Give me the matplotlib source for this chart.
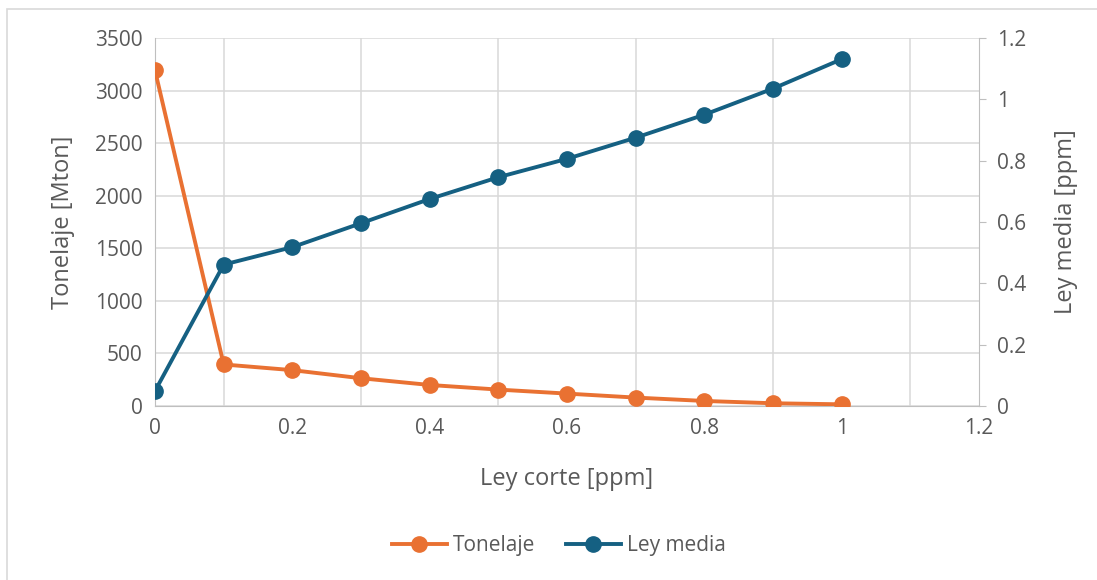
import matplotlib.pyplot as plt
from matplotlib.patches import Rectangle

# datos
ley_corte = [0, 0.1, 0.2, 0.3, 0.4, 0.5, 0.6, 0.7, 0.8, 0.9, 1.0]
tonelaje = [3192, 395, 341, 264, 200, 156, 118, 80, 48, 26, 16]
ley_media = [0.049, 0.461, 0.518, 0.596, 0.675, 0.746, 0.806, 0.875, 0.950, 1.035, 1.131]

naranja = "#E97132"
azul = "#156082"
gris_txt = "#595959"
gris_lin = "#D9D9D9"

plt.rcParams["font.family"] = ["Open Sans", "DejaVu Sans"]

fig = plt.figure(figsize=(10.97, 5.80), dpi=100)
ax = fig.add_axes([0.1413, 0.30, 0.7512, 0.6345])
ax2 = ax.twinx()

# marco del gráfico
fig.patches.append(Rectangle((7 / 1097, -0.1), 1.2, 1 - 9 / 580 + 0.1,
                             transform=fig.transFigure, fill=False,
                             edgecolor=gris_lin, linewidth=1.2))

l1, = ax.plot(ley_corte, tonelaje, color=naranja, lw=2.8, marker="o",
              markersize=11, label="Tonelaje", zorder=3)
l2, = ax2.plot(ley_corte, ley_media, color=azul, lw=2.8, marker="o",
               markersize=11, label="Ley media", zorder=3)

ax.set_xlim(0, 1.2)
ax.set_ylim(0, 3500)
ax2.set_ylim(0, 1.2)
ax.set_xticks([0, 0.2, 0.4, 0.6, 0.8, 1.0, 1.2])
ax.set_xticklabels(["0", "0.2", "0.4", "0.6", "0.8", "1", "1.2"])
ax.set_yticks(range(0, 3501, 500))
ax2.set_yticks([0, 0.2, 0.4, 0.6, 0.8, 1.0, 1.2])
ax2.set_yticklabels(["0", "0.2", "0.4", "0.6", "0.8", "1", "1.2"])

# rejilla
ax.set_xticks([0.1 * i for i in range(13)], minor=True)
ax.grid(True, which="minor", axis="x", color=gris_lin, lw=1.1)
ax.grid(True, which="major", axis="y", color=gris_lin, lw=1.1)
ax.set_axisbelow(True)

for a in (ax, ax2):
    for s in a.spines.values():
        s.set_visible(False)
    a.tick_params(colors=gris_txt, labelsize=15)
ax.spines["left"].set_visible(True)
ax.spines["left"].set_color("#BFBFBF")
ax.spines["bottom"].set_visible(True)
ax.spines["bottom"].set_color("#BFBFBF")
ax2.spines["right"].set_visible(True)
ax2.spines["right"].set_color("#BFBFBF")
ax.tick_params(axis="both", which="both", length=0, pad=9)
ax2.tick_params(axis="y", length=5, color="#BFBFBF", pad=8)

ax.set_xlabel("Ley corte [ppm]", fontsize=17, color=gris_txt, labelpad=20)
ax.set_ylabel("Tonelaje [Mton]", fontsize=17, color=gris_txt, labelpad=14)
ax2.set_ylabel("Ley media [ppm]", fontsize=17, color=gris_txt, labelpad=20)

fig.legend([l1, l2], ["Tonelaje", "Ley media"], loc="center",
           bbox_to_anchor=(559 / 1097, 1 - 546 / 580), ncol=2, frameon=False,
           fontsize=15, labelcolor=gris_txt, handlelength=2.6,
           columnspacing=1.5, handletextpad=0.3)

fig.savefig("out.png", dpi=100)
